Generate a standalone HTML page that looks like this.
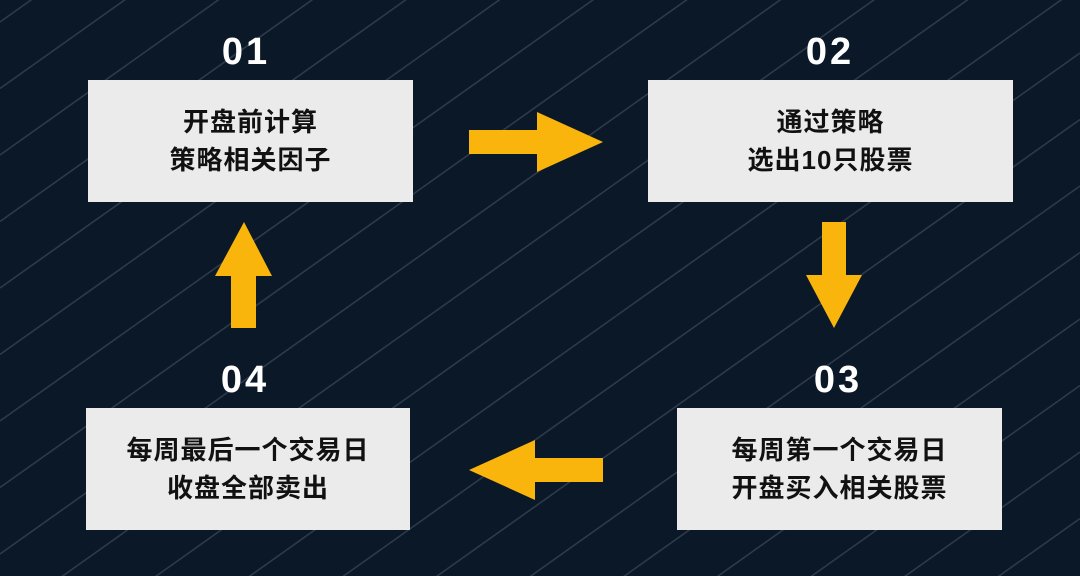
<!DOCTYPE html>
<html style="overflow:hidden;width:1080px;height:576px"><head><meta charset="utf-8"><style>
html,body{margin:0;padding:0}
body{width:1080px;height:576px;overflow:hidden;background:#0b1828;position:relative;font-family:"Liberation Sans","Noto Sans CJK SC",sans-serif;}
svg{position:absolute;left:0;top:0;display:block;overflow:hidden}
.box{position:absolute;background:#ebebeb;color:#111;font-weight:bold;font-size:26px;line-height:38px;text-align:center;display:flex;align-items:center;justify-content:center;flex-direction:column;letter-spacing:1px}
.num{position:absolute;color:#fff;font-weight:bold;font-size:38px;width:120px;text-align:center;letter-spacing:3px;line-height:40px}
</style></head><body>
<svg width="1080" height="576" viewBox="0 0 1080 576">
<g stroke="#2c3a4c" stroke-width="1.6">
<line x1="0" y1="22" x2="1080" y2="-745"/>
<line x1="0" y1="88.5" x2="1080" y2="-678.5"/>
<line x1="0" y1="155" x2="1080" y2="-612"/>
<line x1="0" y1="221.5" x2="1080" y2="-545.5"/>
<line x1="0" y1="288" x2="1080" y2="-479"/>
<line x1="0" y1="354.5" x2="1080" y2="-412.5"/>
<line x1="0" y1="421" x2="1080" y2="-346"/>
<line x1="0" y1="487.5" x2="1080" y2="-279.5"/>
<line x1="0" y1="554" x2="1080" y2="-213"/>
<line x1="0" y1="620.5" x2="1080" y2="-146.5"/>
<line x1="0" y1="687" x2="1080" y2="-80"/>
<line x1="0" y1="753.5" x2="1080" y2="-13.5"/>
<line x1="0" y1="820" x2="1080" y2="53"/>
<line x1="0" y1="886.5" x2="1080" y2="119.5"/>
<line x1="0" y1="953" x2="1080" y2="186"/>
<line x1="0" y1="1019.5" x2="1080" y2="252.5"/>
<line x1="0" y1="1086" x2="1080" y2="319"/>
<line x1="0" y1="1152.5" x2="1080" y2="385.5"/>
<line x1="0" y1="1219" x2="1080" y2="452"/>
<line x1="0" y1="1285.5" x2="1080" y2="518.5"/>
<line x1="0" y1="1352" x2="1080" y2="585"/>
</g>
<g fill="#f9b50c">
<polygon points="469,130 537,130 537,112 603,142 537,172 537,154 469,154"/>
<polygon points="603,458 535,458 535,440 469,470 535,500 535,482 603,482"/>
<polygon points="822,222 846,222 846,275 862,275 834,328 806,275 822,275"/>
<polygon points="231,328 256,328 256,276 272,276 244,222 215,276 231,276"/>
</g>
</svg>
<div class="num" style="left:186px;top:32px">01</div>
<div class="num" style="left:770px;top:32px">02</div>
<div class="num" style="left:778px;top:360px">03</div>
<div class="num" style="left:185px;top:360px">04</div>
<div class="box" style="left:88px;top:80px;width:325px;height:122px"><div>开盘前计算</div><div>策略相关因子</div></div>
<div class="box" style="left:648px;top:80px;width:365px;height:122px"><div>通过策略</div><div>选出10只股票</div></div>
<div class="box" style="left:677px;top:408px;width:325px;height:122px"><div>每周第一个交易日</div><div>开盘买入相关股票</div></div>
<div class="box" style="left:86px;top:408px;width:324px;height:122px"><div>每周最后一个交易日</div><div>收盘全部卖出</div></div>
</body></html>
